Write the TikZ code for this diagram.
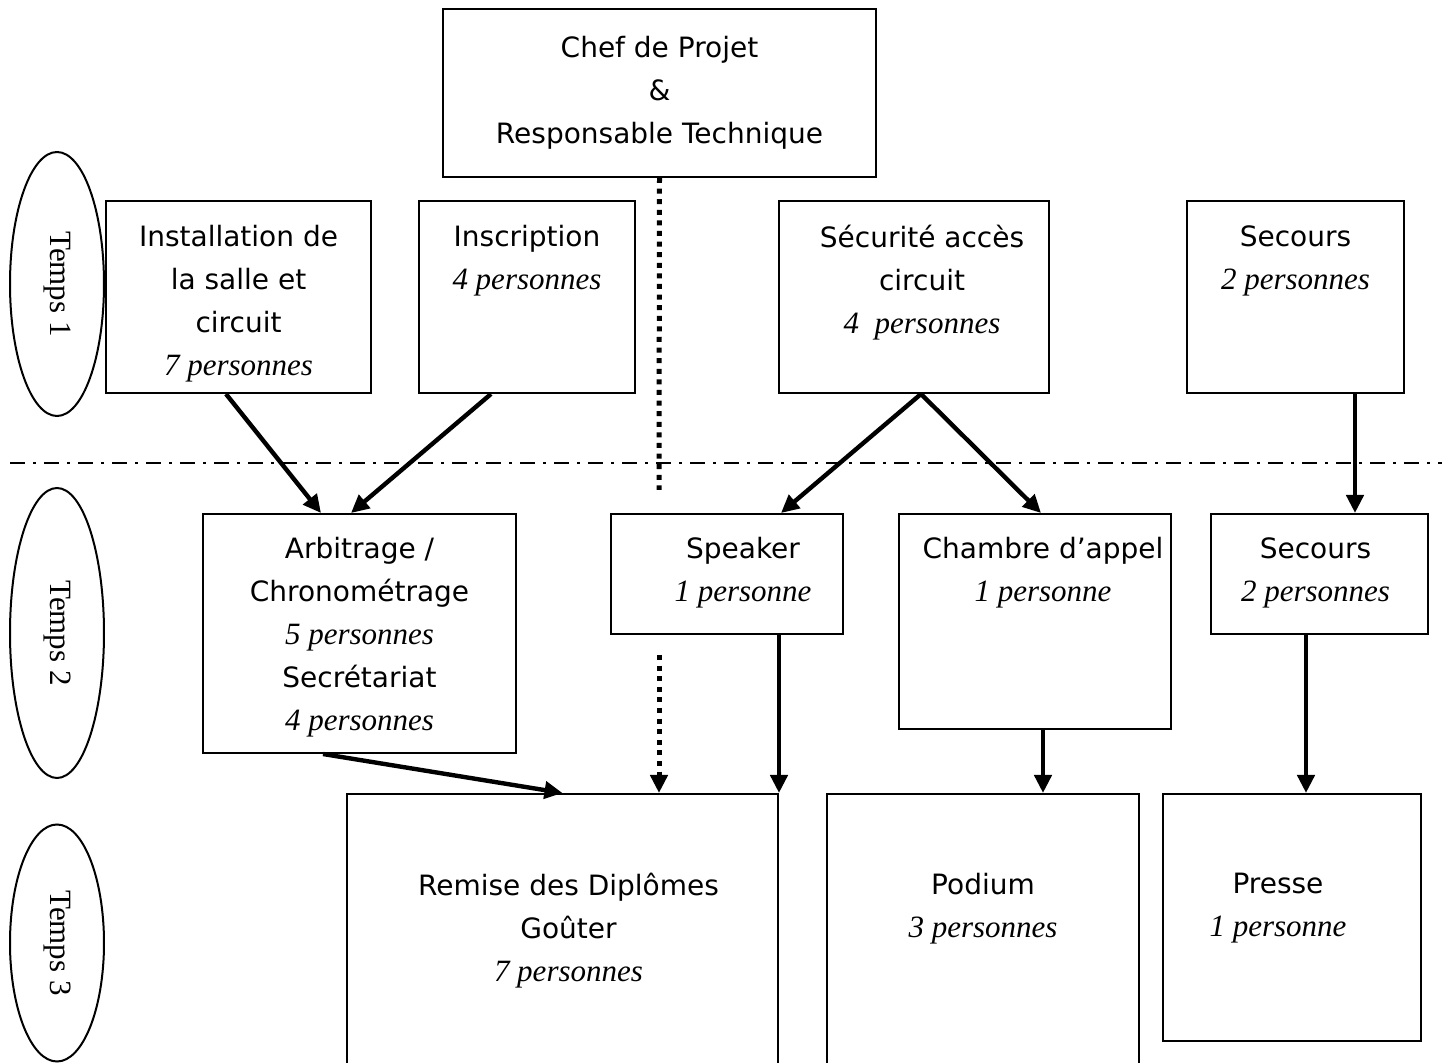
\documentclass[tikz,border=0pt]{standalone}
\usepackage{fontspec}
\setmainfont{Liberation Serif}
\setsansfont{DejaVu Sans}
\usetikzlibrary{arrows.meta,positioning,shapes.geometric}

\newcommand{\pers}[1]{{\rmfamily\itshape\fontsize{15.5}{21.5}\selectfont #1}}

\tikzset{
    box/.style={draw, line width=1pt, anchor=north west, inner sep=0pt},
    boxtext/.style={align=center, anchor=north, inner sep=0pt,
        font=\sffamily\fontsize{14}{21.5}\selectfont, execute at begin node=\strut},
    temps/.style={draw, line width=1pt, ellipse, minimum width=47pt, inner sep=0pt},
    arr/.style={line width=2.2pt, -{Triangle[length=9pt,width=8.5pt]}},
    dots/.style={line width=2.5pt, dash pattern=on 2.5pt off 2.8pt},
    sepline/.style={line width=1pt, dash pattern=on 7.5pt off 4pt on 1.5pt off 4pt},
}

\begin{document}
\begin{tikzpicture}[x=0.5pt, y=-0.5pt]

    % the frame
    \useasboundingbox (0,0) rectangle (1442,1063);

    % the times
    \foreach \t/\y/\h in {1/284/132pt, 2/633/145pt, 3/943/118.5pt} {
        \node[temps, minimum height=\h] (temps\t) at (57,\y) {};
        \node[rotate=-90, font=\fontsize{15.5}{21.5}\selectfont] (tempslabel\t) at (temps\t.center) {Temps \t};
    }

    % the line between temps 1 and temps 2
    \draw[sepline] (10,463) -- (1442,463);

    % the boxes
    \node[box, minimum width=216.5pt, minimum height=84pt] (chef) at (442,8) {};
    \node[box, minimum width=132.5pt, minimum height=96pt] (inst) at (105,200) {};
    \node[box, minimum width=108pt, minimum height=96pt] (insc) at (418,200) {};
    \node[box, minimum width=135pt, minimum height=96pt] (secu) at (778,200) {};
    \node[box, minimum width=108.5pt, minimum height=96pt] (secoa) at (1186,200) {};
    \node[box, minimum width=156.5pt, minimum height=119.5pt] (arbi) at (202,513) {};
    \node[box, minimum width=116pt, minimum height=60pt] (speak) at (610,513) {};
    \node[box, minimum width=136pt, minimum height=107.5pt] (chamb) at (898,513) {};
    \node[box, minimum width=108.5pt, minimum height=60pt] (secob) at (1210,513) {};
    \node[box, minimum width=215.5pt, minimum height=150pt] (remise) at (346,793) {};
    \node[box, minimum width=156pt, minimum height=150pt] (podium) at (826,793) {};
    \node[box, minimum width=129pt, minimum height=123.5pt] (presse) at (1162,793) {};

    % the texts
    \node[boxtext, below=14pt of chef.north] (cheftext) {Chef de Projet\\\&\\Responsable Technique};
    \node[boxtext, below=12.5pt of inst.north] (insttext) {Installation de\\la salle et\\circuit\\\pers{7 personnes}};
    \node[boxtext, below=12.5pt of insc.north] (insctext) {Inscription\\\pers{4 personnes}};
    \node[boxtext, below=12.5pt of secu.north, xshift=4pt] (secutext) {Sécurité accès\\circuit\\\pers{4\ \ personnes}};
    \node[boxtext, below=12.5pt of secoa.north] (secoatext) {Secours\\\pers{2 personnes}};
    \node[boxtext, below=12pt of arbi.north] (arbitext) {Arbitrage /\\Chronométrage\\\pers{5 personnes}\\Secrétariat\\\pers{4 personnes}};
    \node[boxtext, below=12pt of speak.north, xshift=8pt] (speaktext) {Speaker\\\pers{1 personne}};
    \node[boxtext, below=12pt of chamb.north, xshift=4pt] (chambtext) {Chambre d’appel\\\pers{1 personne}};
    \node[boxtext, below=12pt of secob.north, xshift=-2pt] (secobtext) {Secours\\\pers{2 personnes}};
    \node[boxtext, below=40pt of remise.north, xshift=3pt] (remisetext) {Remise des Diplômes\\Goûter\\\pers{7 personnes}};
    \node[boxtext, below=40pt of podium.north] (podiumtext) {Podium\\\pers{3 personnes}};
    \node[boxtext, below=40pt of presse.north, xshift=-7pt] (pressetext) {Presse\\\pers{1 personne}};

    % the arrows
    \coordinate (secoadown) at ([xshift=29.75pt]secoa.south);
    \coordinate (chambdown) at ([xshift=4pt]chamb.south);
    \coordinate (secobdown) at ([xshift=-6.75pt]secob.south);
    \draw[arr] ([xshift=-6.25pt]inst.south) -- ([xshift=-19.25pt]arbi.north);
    \draw[arr] ([xshift=-18pt]insc.south) -- ([xshift=-4.25pt]arbi.north);
    \draw[arr] ([xshift=3.5pt]secu.south) -- ([xshift=27pt]speak.north);
    \draw[arr] ([xshift=3.5pt]secu.south) -- ([xshift=3pt]chamb.north);
    \draw[arr] (secoadown) -- (secoadown |- secob.north);
    \draw[arr] ([xshift=-18.25pt]arbi.south) -- (remise.north);
    \draw[arr] (speak.south -| remise.north east) -- (remise.north east);
    \draw[arr] (chambdown) -- (chambdown |- podium.north);
    \draw[arr] (secobdown) -- (secobdown |- presse.north);

    % the dotted line of the chef
    \coordinate (dotend) at (659,490);
    \coordinate (dotstart) at (659,655);
    \draw[dots] (chef.south) -- (dotend);
    \draw[arr, dots] (dotstart) -- (dotstart |- remise.north);

\end{tikzpicture}
\end{document}
